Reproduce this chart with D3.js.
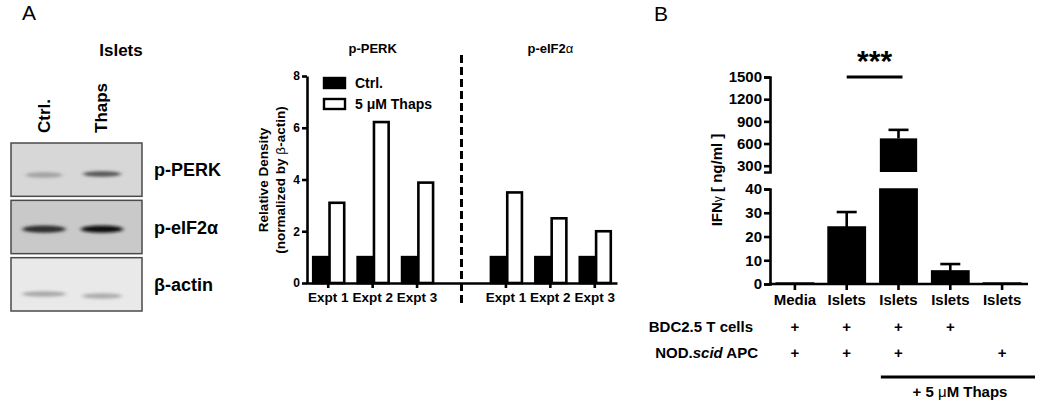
<!DOCTYPE html>
<html>
<head>
<meta charset="utf-8">
<script src="https://cdn.jsdelivr.net/npm/d3@7"></script>
<style>
  html, body { margin: 0; padding: 0; background: #fff; }
  svg { display: block; }
  text { font-family: "Liberation Sans", Arial, sans-serif; font-weight: bold; fill: #000; }
  .sym { font-weight: normal; }
</style>
</head>
<body>
<svg id="chart" width="1050" height="411"></svg>
<script>
// ---------------- DATA ----------------
// Panel A: western blot
const blotLanes = ["Ctrl.", "Thaps"];
const blotProteins = ["p-PERK", "p-eIF2α", "β-actin"];
const blotBackground = ["#d7d7d7", "#c9c9c9", "#e9e9e9"];
const blotBandDarkness = [[0.22, 0.62], [0.82, 0.97], [0.32, 0.30]];

// Panel A: densitometry
const densityGroups = ["p-PERK", "p-eIF2α"];
const expts = ["Expt 1", "Expt 2", "Expt 3"];
const ctrlDensity = [[1, 1, 1], [1, 1, 1]];
const thapsDensity = [[3.1, 6.22, 3.88], [3.5, 2.5, 2.0]];
const densityTicks = [0, 2, 4, 6, 8];
const legendLabels = ["Ctrl.", "5 μM Thaps"];

// Panel B: IFN-gamma
const ifnCategories = ["Media", "Islets", "Islets", "Islets", "Islets"];
const ifnMean = [0.4, 24, 670, 5.5, 0.4];
const ifnSem = [0, 6.3, 115, 2.9, 0];
const upperTicks = [300, 600, 900, 1200, 1500];
const lowerTicks = [0, 10, 20, 30, 40];
const tCellsRow = ["+", "+", "+", "+", ""];
const apcRow = ["+", "+", "+", "", "+"];

// ---------------- DRAW ----------------
const svg = d3.select("#chart");

// Blur filter for blot bands
const defs = svg.append("defs");
defs.append("filter").attr("id", "blur").attr("x", "-20%").attr("y", "-100%")
  .attr("width", "140%").attr("height", "300%")
  .append("feGaussianBlur").attr("stdDeviation", "2.2 1.4");

// Panel letters
svg.append("text").attr("x", 22).attr("y", 20)
  .style("font-size", "21px").style("font-weight", "normal").text("A");
svg.append("text").attr("x", 654).attr("y", 21)
  .style("font-size", "21px").style("font-weight", "normal").text("B");

// ---- Western blot ----
svg.append("text").attr("x", 121).attr("y", 56).attr("text-anchor", "middle")
  .style("font-size", "17px").text("Islets");

const laneX = d3.scalePoint().domain(blotLanes).range([44, 101]);
const rowY = d3.scaleBand().domain(blotProteins).range([143, 311]).paddingInner(0.07).paddingOuter(0);

blotLanes.forEach(l => {
  svg.append("text")
    .attr("transform", `translate(${laneX(l) + 6},133) rotate(-90)`)
    .attr("text-anchor", "start")
    .style("font-size", "17px").text(l);
});

const bandW = [[37, 38], [43, 42], [44, 40]];
const bandDy = [[0.6, 0.58], [0.54, 0.54], [0.68, 0.72]];
blotProteins.forEach((p, i) => {
  const y0 = rowY(p), h = rowY.bandwidth();
  svg.append("rect").attr("x", 11).attr("y", y0).attr("width", 131).attr("height", h)
    .attr("fill", blotBackground[i]).attr("stroke", "#4a4a4a").attr("stroke-width", 1.5);
  blotLanes.forEach((l, j) => {
    const d = blotBandDarkness[i][j];
    const g = Math.round(blotBackground[i] === "#e9e9e9" ? 233 - d * 200 : 205 - d * 195);
    svg.append("ellipse")
      .attr("cx", laneX(l) + (j === 0 ? 0 : 1))
      .attr("cy", y0 + h * bandDy[i][j])
      .attr("rx", bandW[i][j] / 2).attr("ry", i === 1 ? 3.6 : 2.8)
      .attr("fill", d3.rgb(g, g, g)).attr("filter", "url(#blur)");
  });
  svg.append("text").attr("x", 154).attr("y", y0 + h / 2 + 6.5)
    .style("font-size", "18px").text(p);
});

// ---- Densitometry chart ----
const slots = ["P1", "P2", "P3", "div", "E1", "E2", "E3"];
const xSlot = d3.scaleBand().domain(slots).range([306, 617]);
const yD = d3.scaleLinear().domain([0, 8]).range([283, 76]);
const inner = d3.scaleBand().domain(["ctrl", "thaps"]).range([-15, 16]).paddingInner(0.1);

const dens = [];
densityGroups.forEach((g, gi) => {
  expts.forEach((e, ei) => {
    const slot = slots[gi === 0 ? ei : ei + 4];
    dens.push({ slot, key: "ctrl", v: ctrlDensity[gi][ei] });
    dens.push({ slot, key: "thaps", v: thapsDensity[gi][ei] });
  });
});

svg.append("g").selectAll("rect").data(dens).join("rect")
  .attr("x", d => xSlot(d.slot) + xSlot.bandwidth() / 2 + inner(d.key))
  .attr("width", inner.bandwidth())
  .attr("y", d => yD(d.v))
  .attr("height", d => yD(0) - yD(d.v))
  .attr("fill", d => d.key === "ctrl" ? "#000" : "#fff")
  .attr("stroke", "#000").attr("stroke-width", 2.6);

// axes
const yAxD = svg.append("g").attr("transform", `translate(307,0)`)
  .call(d3.axisLeft(yD).tickValues(densityTicks).tickSize(5).tickSizeOuter(0).tickPadding(2));
yAxD.selectAll("path,line").attr("stroke", "#000").attr("stroke-width", 2.6);
yAxD.selectAll("text").style("font-size", "12px").style("font-family", "Liberation Sans, Arial, sans-serif").style("font-weight", "bold").attr("fill", "#000");

const tickSlots = slots.filter(s => s !== "div");
const exptLabel = s => "Expt " + s.slice(1);
const xAxD = svg.append("g").attr("transform", `translate(0,283)`)
  .call(d3.axisBottom(xSlot).tickValues(tickSlots).tickFormat(exptLabel).tickSize(5).tickSizeOuter(0).tickPadding(4));
xAxD.selectAll("path,line").attr("stroke", "#000").attr("stroke-width", 2.6);
xAxD.selectAll("text").style("font-size", "13.5px").style("font-family", "Liberation Sans, Arial, sans-serif").style("font-weight", "bold").attr("fill", "#000");

// divider
const divX = xSlot("div") + xSlot.bandwidth() / 2;
svg.append("line").attr("x1", divX).attr("x2", divX).attr("y1", 55).attr("y2", 306)
  .attr("stroke", "#000").attr("stroke-width", 3).attr("stroke-dasharray", "8,4");

// group titles
const t1 = svg.append("text").attr("x", (xSlot("P2") + xSlot.bandwidth() / 2)).attr("y", 53)
  .attr("text-anchor", "middle").style("font-size", "13px");
t1.text(densityGroups[0]);
const t2 = svg.append("text").attr("x", (xSlot("E2") + xSlot.bandwidth() / 2)).attr("y", 53)
  .attr("text-anchor", "middle").style("font-size", "13px");
t2.append("tspan").text("p-eIF2");
t2.append("tspan").style("font-weight", "normal").text("α");

// y title
svg.append("text").attr("transform", "translate(268,180) rotate(-90)").attr("text-anchor", "middle")
  .style("font-size", "13.5px").text("Relative Density");
const yt2 = svg.append("text").attr("transform", "translate(285,180) rotate(-90)").attr("text-anchor", "middle")
  .style("font-size", "13.5px");
yt2.append("tspan").text("(normalized by ");
yt2.append("tspan").style("font-weight", "normal").text("β");
yt2.append("tspan").text("-actin)");

// legend
legendLabels.forEach((l, i) => {
  const ly = 78 + i * 21;
  svg.append("rect").attr("x", 324).attr("y", ly).attr("width", 21).attr("height", 10)
    .attr("fill", i === 0 ? "#000" : "#fff").attr("stroke", "#000").attr("stroke-width", 2.4);
  svg.append("text").attr("x", 355).attr("y", ly + 10).style("font-size", "14px").text(l);
});

// ---- Panel B ----
const xB = d3.scaleBand().domain(d3.range(ifnCategories.length)).range([769, 1028]).paddingInner(0.28).paddingOuter(0.14);
const yLow = d3.scaleLinear().domain([0, 40]).range([284, 189]);
const yUp = d3.scaleLinear().domain([215, 1500]).range([172, 77]);

const ifn = ifnCategories.map((c, i) => ({ i, c, m: ifnMean[i], s: ifnSem[i] }));

// bars (lower part)
svg.append("g").selectAll("rect").data(ifn).join("rect")
  .attr("x", d => xB(d.i)).attr("width", xB.bandwidth())
  .attr("y", d => yLow(Math.min(d.m, 40)))
  .attr("height", d => yLow(0) - yLow(Math.min(d.m, 40)))
  .attr("fill", "#000").attr("stroke", "#000").attr("stroke-width", 1.5);
// bars (upper part)
svg.append("g").selectAll("rect").data(ifn.filter(d => d.m > 40)).join("rect")
  .attr("x", d => xB(d.i)).attr("width", xB.bandwidth())
  .attr("y", d => yUp(d.m))
  .attr("height", d => yUp(215) - yUp(d.m))
  .attr("fill", "#000");

// error bars
const yAny = v => v > 40 ? yUp(v) : yLow(v);
ifn.filter(d => d.s > 0).forEach(d => {
  const cx = xB(d.i) + xB.bandwidth() / 2;
  const top = yAny(d.m + d.s);
  svg.append("line").attr("x1", cx).attr("x2", cx).attr("y1", yAny(d.m)).attr("y2", top)
    .attr("stroke", "#000").attr("stroke-width", 2.6);
  svg.append("line").attr("x1", cx - 10).attr("x2", cx + 10).attr("y1", top).attr("y2", top)
    .attr("stroke", "#000").attr("stroke-width", 2.6);
});

// axes
function styleAxis(g, fs) {
  g.selectAll("path,line").attr("stroke", "#000").attr("stroke-width", 2.6);
  g.selectAll("text").style("font-size", fs).style("font-family", "Liberation Sans, Arial, sans-serif")
    .style("font-weight", "bold").attr("fill", "#000");
}
const axUp = svg.append("g").attr("transform", "translate(770,0)")
  .call(d3.axisLeft(yUp).tickValues(upperTicks).tickFormat(d3.format("d")).tickSize(6).tickSizeOuter(6).tickPadding(2));
styleAxis(axUp, "15px");
const axLow = svg.append("g").attr("transform", "translate(770,0)")
  .call(d3.axisLeft(yLow).tickValues(lowerTicks).tickFormat(d3.format("d")).tickSize(6).tickSizeOuter(6).tickPadding(2));
styleAxis(axLow, "15px");
const axXB = svg.append("g").attr("transform", "translate(0,284)")
  .call(d3.axisBottom(xB).tickFormat(i => ifnCategories[i]).tickSize(6).tickSizeOuter(0).tickPadding(4));
axXB.select(".domain").attr("d", "M769,0H1028");
styleAxis(axXB, "15px");

// y title
const yb = svg.append("text").attr("transform", "translate(722,180) rotate(-90)").attr("text-anchor", "middle")
  .style("font-size", "15px");
yb.append("tspan").text("IFN");
yb.append("tspan").style("font-weight", "normal").style("font-size", "12px").text("γ");
yb.append("tspan").text(" [ ng/ml ]");

// significance
const sx1 = xB(1) + xB.bandwidth() / 2, sx2 = xB(2) + xB.bandwidth() / 2 + 4;
svg.append("line").attr("x1", sx1).attr("x2", sx2).attr("y1", yUp(1500)).attr("y2", yUp(1500))
  .attr("stroke", "#000").attr("stroke-width", 3);
svg.append("text").attr("x", (sx1 + sx2) / 2).attr("y", 71).attr("text-anchor", "middle")
  .style("font-size", "30px").text("***");

// condition rows
svg.append("text").attr("x", 753).attr("y", 332).attr("text-anchor", "end").style("font-size", "15px").text("BDC2.5 T cells");
const nod = svg.append("text").attr("x", 758).attr("y", 358).attr("text-anchor", "end").style("font-size", "15px");
nod.append("tspan").text("NOD.");
nod.append("tspan").style("font-style", "italic").text("scid");
nod.append("tspan").text(" APC");

[tCellsRow, apcRow].forEach((row, r) => {
  svg.append("g").selectAll("text").data(row).join("text")
    .attr("x", (d, i) => xB(i) + xB.bandwidth() / 2)
    .attr("y", 332 + r * 26).attr("text-anchor", "middle").style("font-size", "15px")
    .text(d => d);
});

svg.append("line").attr("x1", xB(2) + 1).attr("x2", 1035).attr("y1", 377).attr("y2", 377)
  .attr("stroke", "#000").attr("stroke-width", 3);
const th = svg.append("text").attr("x", 960).attr("y", 397).attr("text-anchor", "middle").style("font-size", "15px");
th.append("tspan").text("+ 5 ");
th.append("tspan").style("font-weight", "normal").text("μ");
th.append("tspan").text("M Thaps");
</script>
</body>
</html>
